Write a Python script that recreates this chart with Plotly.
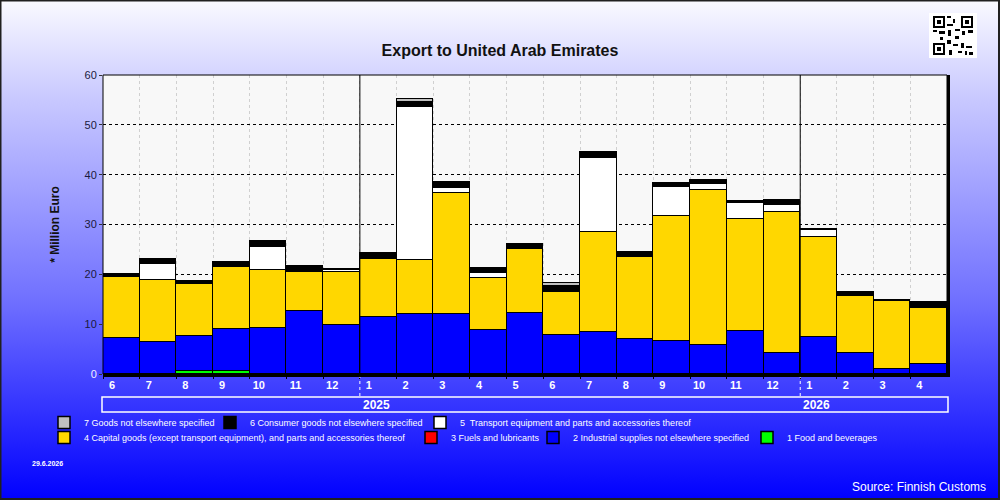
import base64
import plotly.graph_objects as go

# ---------------- data ----------------
months = ["6", "7", "8", "9", "10", "11", "12",
          "1", "2", "3", "4", "5", "6", "7", "8", "9", "10", "11", "12",
          "1", "2", "3", "4"]
years = ["2025", "2026"]
year_first_month_idx = [7, 19]
y_ticks = [0, 10, 20, 30, 40, 50, 60]

food = [0, 0, 0.7, 0.7, 0, 0, 0,
        0, 0, 0, 0, 0, 0, 0, 0, 0, 0, 0, 0,
        0, 0, 0, 0]
industrial = [7.2, 6.4, 6.9, 8.3, 9.2, 12.6, 9.8,
              11.4, 12.0, 12.0, 8.8, 12.2, 7.8, 8.4, 7.0, 6.6, 5.8, 8.6, 4.2,
              7.4, 4.3, 1.1, 2.0]
fuels = [0, 0, 0, 0, 0, 0, 0,
         0, 0, 0, 0, 0, 0, 0, 0, 0, 0, 0, 0,
         0, 0, 0, 0]
capital = [12.2, 12.4, 10.4, 12.5, 11.6, 7.8, 10.7,
           11.7, 10.8, 24.3, 10.4, 12.9, 8.6, 20.0, 16.4, 25.2, 31.1, 22.6, 28.3,
           20.0, 11.4, 13.5, 11.2]
transport = [0, 3.3, 0, 0, 4.7, 0, 0.3,
             0, 30.8, 1.1, 1.1, 0, 0, 15.0, 0.3, 5.8, 1.2, 3.1, 1.5,
             1.5, 0, 0, 0]
consumer = [0.7, 0.9, 0.6, 0.9, 1.2, 1.3, 0.3,
            1.1, 0.9, 1.1, 0.9, 1.0, 1.3, 1.1, 0.7, 0.7, 0.8, 0.5, 0.9,
            0.2, 0.7, 0.2, 1.2]
other = [0, 0, 0, 0, 0, 0, 0,
         0, 0.6, 0, 0, 0, 0.5, 0, 0, 0, 0, 0, 0,
         0, 0, 0, 0]

series_names = [
    "1 Food and beverages",
    "2 Industrial supplies not elsewhere specified",
    "3 Fuels and lubricants",
    "4 Capital goods (except transport equipment), and parts and accessories thereof",
    "5  Transport equipment and parts and accessories thereof",
    "6 Consumer goods not elsewhere specified",
    "7 Goods not elsewhere specified",
]
series_values = [food, industrial, fuels, capital, transport, consumer, other]
series_colors = ["#00ff00", "#0000ff", "#ff0000", "#ffd700", "#ffffff", "#000000", "#c0c0c0"]

# legend entry placement in the reference (pixel x where the text starts, row number)
legend_text_x = [784, 570, 448, 81, 457, 247, 81]
legend_row = [2, 2, 2, 2, 1, 1, 1]

# ---------------- layout geometry (pixels) ----------------
L, T, W, H = 103, 75, 844, 299
FW, FH = 1000, 500


def px(x):
    return (x - L) / W


def py(y):
    return (T + H - y) / H


FONT = "Liberation Sans, Arial, sans-serif"
NARROW = "Liberation Sans Narrow, Arial Narrow, Liberation Sans, Arial, sans-serif"

xpos = list(range(len(months)))

fig = go.Figure()
legend_layouts = {}
for i, (name, vals, color) in enumerate(zip(series_names, series_values, series_colors)):
    lid = "legend" if i == 0 else f"legend{i + 1}"
    fig.add_trace(go.Bar(
        x=xpos,
        y=[v if v else None for v in vals],
        name=name,
        width=1,
        legend=lid,
        marker=dict(color=color, line=dict(color="black", width=1.5)),
    ))
    row_top = 408 if legend_row[i] == 1 else 423
    legend_layouts[lid] = dict(
        orientation="h", xanchor="left", yanchor="top",
        x=px(legend_text_x[i] - 37), y=py(row_top),
        bgcolor="rgba(0,0,0,0)", itemwidth=30,
        font=dict(family=FONT, size=9, color="white"))

# gradient background
svg = ('<svg xmlns="http://www.w3.org/2000/svg" width="1000" height="500" preserveAspectRatio="none">'
       '<defs><linearGradient id="g" x1="0" y1="0" x2="0" y2="1">'
       '<stop offset="0" stop-color="#fafaff"/>'
       '<stop offset="0.2" stop-color="#c8c8ff"/>'
       '<stop offset="0.6" stop-color="#7070ff"/>'
       '<stop offset="0.8" stop-color="#3838ff"/>'
       '<stop offset="1" stop-color="#0000ff"/>'
       '</linearGradient></defs><rect width="1000" height="500" fill="url(#g)"/></svg>')
bg_src = "data:image/svg+xml;base64," + base64.b64encode(svg.encode()).decode()

shapes = []
# plot area background
shapes.append(dict(type="rect", xref="paper", yref="paper", x0=0, x1=1, y0=0, y1=1,
                   fillcolor="#f8f8f8", line=dict(width=0), layer="below"))
# frame
shapes.append(dict(type="rect", xref="paper", yref="paper", x0=0, x1=1, y0=0, y1=1,
                   line=dict(color="black", width=1)))
shapes.append(dict(type="line", xref="paper", yref="paper", x0=px(948.5), x1=px(948.5), y0=py(377), y1=1,
                   line=dict(color="black", width=3)))
shapes.append(dict(type="line", xref="paper", yref="paper", x0=0, x1=px(950), y0=py(375.5), y1=py(375.5),
                   line=dict(color="black", width=3)))
# year separators
for idx in year_first_month_idx:
    shapes.append(dict(type="line", xref="x", yref="paper", x0=idx - 0.5, x1=idx - 0.5, y0=0, y1=1,
                       line=dict(color="black", width=1)))
    shapes.append(dict(type="line", xref="x", yref="paper", x0=idx - 0.5, x1=idx - 0.5,
                       y0=py(396), y1=py(377), line=dict(color="white", width=1, dash="dot")))
# year band
shapes.append(dict(type="rect", xref="paper", yref="paper", x0=px(102), x1=px(948), y0=py(412), y1=py(397),
                   line=dict(color="white", width=1.5)))
# QR-code-like decoration
shapes.append(dict(type="rect", xref="paper", yref="paper", x0=px(929), x1=px(977), y0=py(58), y1=py(13),
                   fillcolor="white", line=dict(width=0)))
for (qx, qy) in [(933, 16), (961, 16), (933, 43)]:
    shapes.append(dict(type="rect", xref="paper", yref="paper", x0=px(qx), x1=px(qx + 12), y0=py(qy + 12), y1=py(qy),
                       fillcolor="black", line=dict(width=0)))
    shapes.append(dict(type="rect", xref="paper", yref="paper", x0=px(qx + 2), x1=px(qx + 10), y0=py(qy + 10), y1=py(qy + 2),
                       fillcolor="white", line=dict(width=0)))
    shapes.append(dict(type="rect", xref="paper", yref="paper", x0=px(qx + 4), x1=px(qx + 8), y0=py(qy + 8), y1=py(qy + 4),
                       fillcolor="black", line=dict(width=0)))
for (qx, qy, qw, qh) in [(947, 16, 4, 2), (953, 19, 2, 4), (947, 24, 6, 2), (933, 30, 4, 2), (939, 31, 6, 3),
                         (948, 30, 3, 6), (955, 29, 5, 2), (962, 31, 3, 4), (968, 30, 5, 3), (947, 40, 4, 4),
                         (953, 44, 5, 2), (961, 43, 3, 5), (966, 46, 6, 2), (949, 50, 3, 5), (958, 51, 4, 2),
                         (965, 51, 2, 4), (969, 52, 4, 3), (955, 36, 4, 3), (940, 37, 3, 3)]:
    shapes.append(dict(type="rect", xref="paper", yref="paper", x0=px(qx), x1=px(qx + qw), y0=py(qy + qh), y1=py(qy),
                       fillcolor="black", line=dict(width=0)))
# outer border
shapes.append(dict(type="rect", xref="paper", yref="paper", x0=px(0.5), x1=px(999), y0=py(499), y1=py(0.5),
                   line=dict(color="#202020", width=2)))

annotations = []
for idx, yr in zip(year_first_month_idx, years):
    annotations.append(dict(x=idx - 0.5, xref="x", y=py(404.5), yref="paper", text=yr, showarrow=False,
                            xanchor="left", yanchor="middle", xshift=1,
                            font=dict(family=FONT, size=12, color="white", weight="bold")))
annotations.append(dict(x=px(30), xref="paper", y=py(463), yref="paper", text="29.6.2026", showarrow=False,
                        xanchor="left", yanchor="middle",
                        font=dict(family=NARROW, size=7, color="white", weight="bold")))
annotations.append(dict(x=px(988), xref="paper", y=py(487), yref="paper", text="Source: Finnish Customs",
                        showarrow=False, xanchor="right", yanchor="middle",
                        font=dict(family=FONT, size=12, color="white")))

y_ticktext = [('<span style="color:#f0f0ff">%d</span>' % v) if v == 0 else str(v) for v in y_ticks]

fig.update_layout(
    width=FW, height=FH,
    margin=dict(l=L, r=FW - L - W, t=T, b=FH - T - H, pad=0, autoexpand=False),
    paper_bgcolor="#7070ff",
    plot_bgcolor="rgba(0,0,0,0)",
    barmode="stack",
    bargap=0,
    title=dict(text="Export to United Arab Emirates", x=0.5, xref="container", xanchor="center",
               y=1 - 50 / FH, yref="container", yanchor="middle",
               font=dict(family=NARROW, size=16, color="#111111", weight="bold")),
    xaxis=dict(range=[-0.5, len(months) - 0.5], automargin=False,
               tickmode="array", tickvals=[i - 0.5 for i in xpos], ticktext=months,
               ticks="outside", ticklen=4, tickcolor="black", tickwidth=1,
               ticklabelshift=9, ticklabelstandoff=-3,
               tickfont=dict(family=FONT, size=11, color="white", weight="bold"),
               showgrid=True, gridcolor="#d0d0d0", griddash="dot", gridwidth=1,
               zeroline=False, showline=False, fixedrange=True),
    yaxis=dict(range=[0, 60], automargin=False, tickmode="array", tickvals=y_ticks, ticktext=y_ticktext,
               ticks="outside", ticklen=3, tickcolor="#333",
               tickfont=dict(family=NARROW, size=11, color="#1a1a40"),
               showgrid=True, gridcolor="black", griddash="dot", gridwidth=1,
               zeroline=False, showline=False,
               title=dict(text="* Million Euro", standoff=22,
                          font=dict(family=NARROW, size=12, color="#111111", weight="bold"))),
    images=[dict(source=bg_src, xref="paper", yref="paper", x=px(0), y=py(0),
                 sizex=FW / W, sizey=FH / H, xanchor="left", yanchor="top",
                 sizing="stretch", layer="below")],
    shapes=shapes,
    annotations=annotations,
    showlegend=True,
    **legend_layouts,
)

fig.write_html("out.html")
